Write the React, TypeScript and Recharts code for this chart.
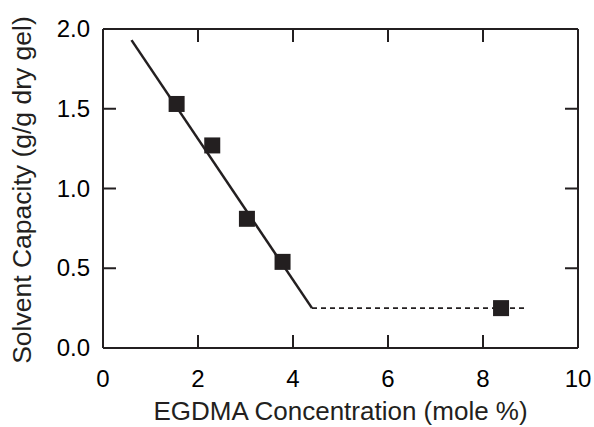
import { ComposedChart, XAxis, YAxis, Line, Scatter } from 'recharts'

// measured points: EGDMA mole % vs solvent capacity
const conc = [1.55, 2.3, 3.03, 3.78, 8.38]
const capacity = [1.53, 1.27, 0.81, 0.54, 0.25]

// fitted trend: solid decline then a dashed plateau
const fitX = [0.6, 4.4]
const fitY = [1.93, 0.25]
const plateauX = [4.4, 8.9]
const plateauY = [0.25, 0.25]

const xTicks = [0, 2, 4, 6, 8, 10]
const yTicks = [0, 0.5, 1.0, 1.5, 2.0]

const points = conc.map((x, i) => ({ x, y: capacity[i] }))
const fit = fitX.map((x, i) => ({ x, y: fitY[i] }))
const plateau = plateauX.map((x, i) => ({ x, y: plateauY[i] }))

const ink = '#231f20'
const font = 'Liberation Sans, Arial, sans-serif'
const W = 594
const H = 427

const Square = (props: any) => (
  <rect x={props.cx - 8} y={props.cy - 8} width={16} height={16} fill={ink} />
)

// ticks point into the plot, labels sit outside
const BottomTick = (props: any) => (
  <g>
    <line x1={props.x} y1={props.y} x2={props.x} y2={props.y - 13} stroke={ink} strokeWidth={2} />
    <text x={props.x} y={props.y + 39} textAnchor="middle" fontSize={24}>
      {props.payload.value}
    </text>
  </g>
)

const LeftTick = (props: any) => (
  <g>
    <line x1={props.x} y1={props.y} x2={props.x + 13} y2={props.y} stroke={ink} strokeWidth={2} />
    <text x={props.x - 13} y={props.y + 8} textAnchor="end" fontSize={24}>
      {props.payload.value.toFixed(1)}
    </text>
  </g>
)

const TopTick = (props: any) => (
  <line x1={props.x} y1={props.y} x2={props.x} y2={props.y + 13} stroke={ink} strokeWidth={2} />
)

const RightTick = (props: any) => (
  <line x1={props.x} y1={props.y} x2={props.x - 13} y2={props.y} stroke={ink} strokeWidth={2} />
)

const layer: any = { position: 'absolute', left: 0, top: 0 }

export default function App() {
  return (
    <div style={{ position: 'absolute', left: 0, top: 0, width: W, height: H, fontFamily: font, color: ink }}>
      {/* frame, ticks and tick labels */}
      <div style={layer}>
        <ComposedChart width={W} height={H} margin={{ top: 28, right: 15, bottom: 0, left: 0 }}>
          <XAxis xAxisId="b" type="number" dataKey="x" domain={[0, 10]} ticks={xTicks} height={79}
            tickSize={0} tickMargin={0} tickLine={false} axisLine={{ stroke: ink, strokeWidth: 2 }} tick={<BottomTick />} />
          <XAxis xAxisId="t" orientation="top" type="number" dataKey="x" domain={[0, 10]} ticks={xTicks} height={1}
            tickSize={0} tickMargin={0} tickLine={false} axisLine={{ stroke: ink, strokeWidth: 2 }} tick={<TopTick />} />
          <YAxis yAxisId="l" type="number" dataKey="y" domain={[0, 2]} ticks={yTicks} width={103}
            tickSize={0} tickMargin={0} tickLine={false} axisLine={{ stroke: ink, strokeWidth: 2 }} tick={<LeftTick />} />
          <YAxis yAxisId="r" orientation="right" type="number" dataKey="y" domain={[0, 2]} ticks={yTicks} width={1}
            tickSize={0} tickMargin={0} tickLine={false} axisLine={{ stroke: ink, strokeWidth: 2 }} tick={<RightTick />} />
          <Line xAxisId="b" yAxisId="l" data={fit} dataKey="y" stroke="none" dot={false} isAnimationActive={false} />
          <Line xAxisId="t" yAxisId="r" data={plateau} dataKey="y" stroke="none" dot={false} isAnimationActive={false} />
        </ComposedChart>
      </div>
      {/* data layer on the same plot area */}
      <div style={layer}>
        <ComposedChart width={W} height={H} margin={{ top: 29, right: 16, bottom: 79, left: 103 }}>
          <XAxis type="number" dataKey="x" domain={[0, 10]} hide />
          <YAxis type="number" dataKey="y" domain={[0, 2]} hide />
          <Line data={fit} dataKey="y" stroke={ink} strokeWidth={2.5} dot={false} isAnimationActive={false} />
          <Line data={plateau} dataKey="y" stroke={ink} strokeWidth={1.8} strokeDasharray="5 4" dot={false} isAnimationActive={false} />
          <Scatter data={points} dataKey="y" shape={<Square />} isAnimationActive={false} />
        </ComposedChart>
      </div>
      <div style={{ position: 'absolute', left: 103, width: 475, top: 396, textAlign: 'center', fontSize: 26, whiteSpace: 'nowrap' }}>
        EGDMA Concentration (mole %)
      </div>
      <div style={{ position: 'absolute', left: 22, top: 190, fontSize: 26.5, whiteSpace: 'nowrap', transform: 'translate(-50%, -50%) rotate(-90deg)' }}>
        Solvent Capacity (g/g dry gel)
      </div>
    </div>
  )
}
